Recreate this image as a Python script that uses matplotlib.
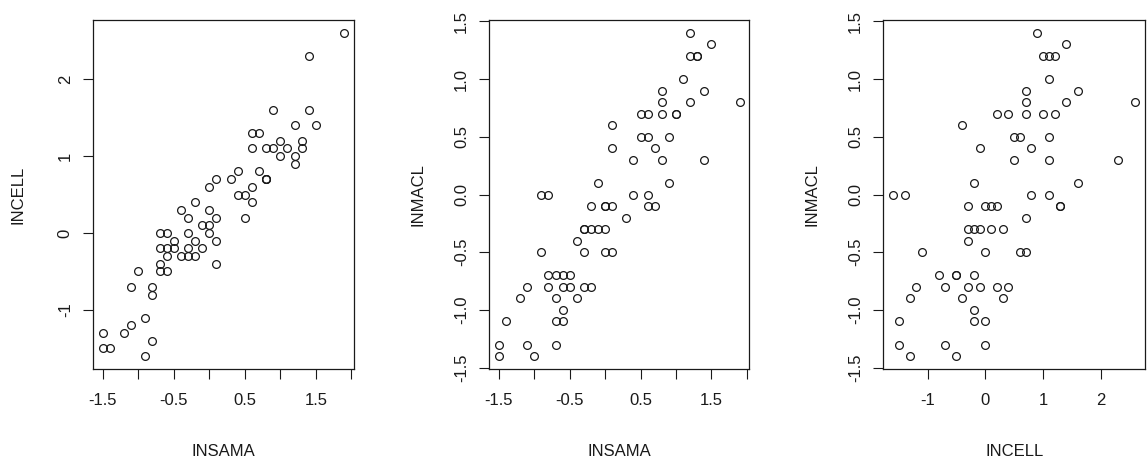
import matplotlib
matplotlib.use("Agg")
import matplotlib.pyplot as plt

plt.rcParams['font.family'] = ['Liberation Sans', 'DejaVu Sans']

# ---- data (one observation per position) ----
insama = [1.2, 1.5, 1.2, 1.3, 1.3, 1.1, 0.8, 1.4, 0.8, 1.2, 1.9,
          0.5, 0.6, 0.8, 1.0, 1.0, 0.1, 0.5, 0.6, 0.9, 0.1, 0.7,
          0.4, 0.8, 1.4, -0.1, 0.9, -0.9, -0.8, 0.4, 0.6,
          -0.2, 0.0, 0.0, 0.1, 0.6, 0.7, 0.3,
          0.0, -0.1, -0.2, -0.3, -0.3, -0.4,
          -0.9, -0.3, 0.0, 0.1, -0.8, -0.7, -0.6, -0.5,
          -1.1, -0.8, -0.6, -0.5, -0.3, -0.2, -1.2, -0.7, -0.4, -0.6,
          -1.4, -0.7, -0.6, -1.5, -1.1, -0.7, -1.5, -1.0]
incell = [0.9, 1.4, 1.0, 1.1, 1.2, 1.1, 0.7, 1.6, 0.7, 1.4, 2.6,
          0.2, 0.4, 0.7, 1.0, 1.2, -0.4, 0.5, 0.6, 1.1, -0.1, 0.8,
          0.5, 1.1, 2.3, -0.2, 1.6, -1.6, -1.4, 0.8, 1.1,
          -0.3, 0.0, 0.1, 0.2, 1.3, 1.3, 0.7,
          0.3, 0.1, -0.1, -0.2, -0.3, -0.3,
          -1.1, 0.0, 0.6, 0.7, -0.8, -0.5, -0.5, -0.2,
          -1.2, -0.7, -0.3, -0.1, 0.2, 0.4, -1.3, -0.4, 0.3, -0.2,
          -1.5, -0.2, 0.0, -1.5, -0.7, 0.0, -1.3, -0.5]
inmacl = [1.4, 1.3, 1.2, 1.2, 1.2, 1.0, 0.9, 0.9, 0.8, 0.8, 0.8,
          0.7, 0.7, 0.7, 0.7, 0.7, 0.6, 0.5, 0.5, 0.5, 0.4, 0.4,
          0.3, 0.3, 0.3, 0.1, 0.1, 0.0, 0.0, 0.0, 0.0,
          -0.1, -0.1, -0.1, -0.1, -0.1, -0.1, -0.2,
          -0.3, -0.3, -0.3, -0.3, -0.3, -0.4,
          -0.5, -0.5, -0.5, -0.5, -0.7, -0.7, -0.7, -0.7,
          -0.8, -0.8, -0.8, -0.8, -0.8, -0.8, -0.9, -0.9, -0.9, -1.0,
          -1.1, -1.1, -1.1, -1.3, -1.3, -1.3, -1.4, -1.4]

half_ticks = [-1.5, -1.0, -0.5, 0.0, 0.5, 1.0, 1.5, 2.0]
half_labels = ["-1.5", "", "-0.5", "", "0.5", "", "1.5", ""]
unit_ticks = [-1, 0, 1, 2]
unit_labels = ["-1", "0", "1", "2"]
macl_ticks = [-1.5, -1.0, -0.5, 0.0, 0.5, 1.0, 1.5]
macl_labels = ["-1.5", "-1.0", "-0.5", "0.0", "0.5", "1.0", "1.5"]

W, H = 1148, 462
fig = plt.figure(figsize=(W / 100, H / 100), dpi=100)
fig.patch.set_facecolor('white')
INK = '#1a1a1a'
FS = 12


def rlim(v):
    lo, hi = min(v), max(v)
    d = (hi - lo) * 0.04
    return lo - d, hi + d


def panel(l, r, t, b, x, y, xt, xl, yt, yl, xname, yname, ylab_x):
    ax = fig.add_axes([l / W, 1 - b / H, (r - l) / W, (b - t) / H])
    ax.plot(x, y, linestyle='none', marker='o', markersize=5.6,
            markerfacecolor='none', markeredgecolor=INK, markeredgewidth=0.9)
    ax.set_xlim(*rlim(x))
    ax.set_ylim(*rlim(y))
    ax.set_xticks(xt)
    ax.set_xticklabels(xl)
    ax.set_yticks(yt)
    ax.set_yticklabels(yl)
    for s in ax.spines.values():
        s.set_color(INK)
        s.set_linewidth(0.9)
    ax.tick_params(axis='both', direction='out', length=7.5, width=0.8,
                   color=INK, labelcolor=INK, labelsize=FS)
    ax.tick_params(axis='x', pad=10)
    ax.tick_params(axis='y', pad=7, labelrotation=90)
    for lab in ax.get_yticklabels():
        lab.set_va('center')
    ax.text(0.5, (b - 452) / (b - t), xname, transform=ax.transAxes,
            ha='center', va='center', fontsize=FS, color=INK)
    ax.text((ylab_x - l) / (r - l), 0.5, yname, transform=ax.transAxes,
            ha='center', va='center', rotation=90, fontsize=FS, color=INK)
    return ax


panel(93, 354, 20, 369, insama, incell, half_ticks, half_labels,
      unit_ticks, unit_labels, "INSAMA", "INCELL", 18)
panel(489.3, 749.3, 20, 369, insama, inmacl, half_ticks, half_labels,
      macl_ticks, macl_labels, "INSAMA", "INMACL", 418)
panel(883.3, 1145, 20, 369, incell, inmacl, unit_ticks, unit_labels,
      macl_ticks, macl_labels, "INCELL", "INMACL", 812)

fig.savefig("out.png", dpi=100, facecolor='white')
